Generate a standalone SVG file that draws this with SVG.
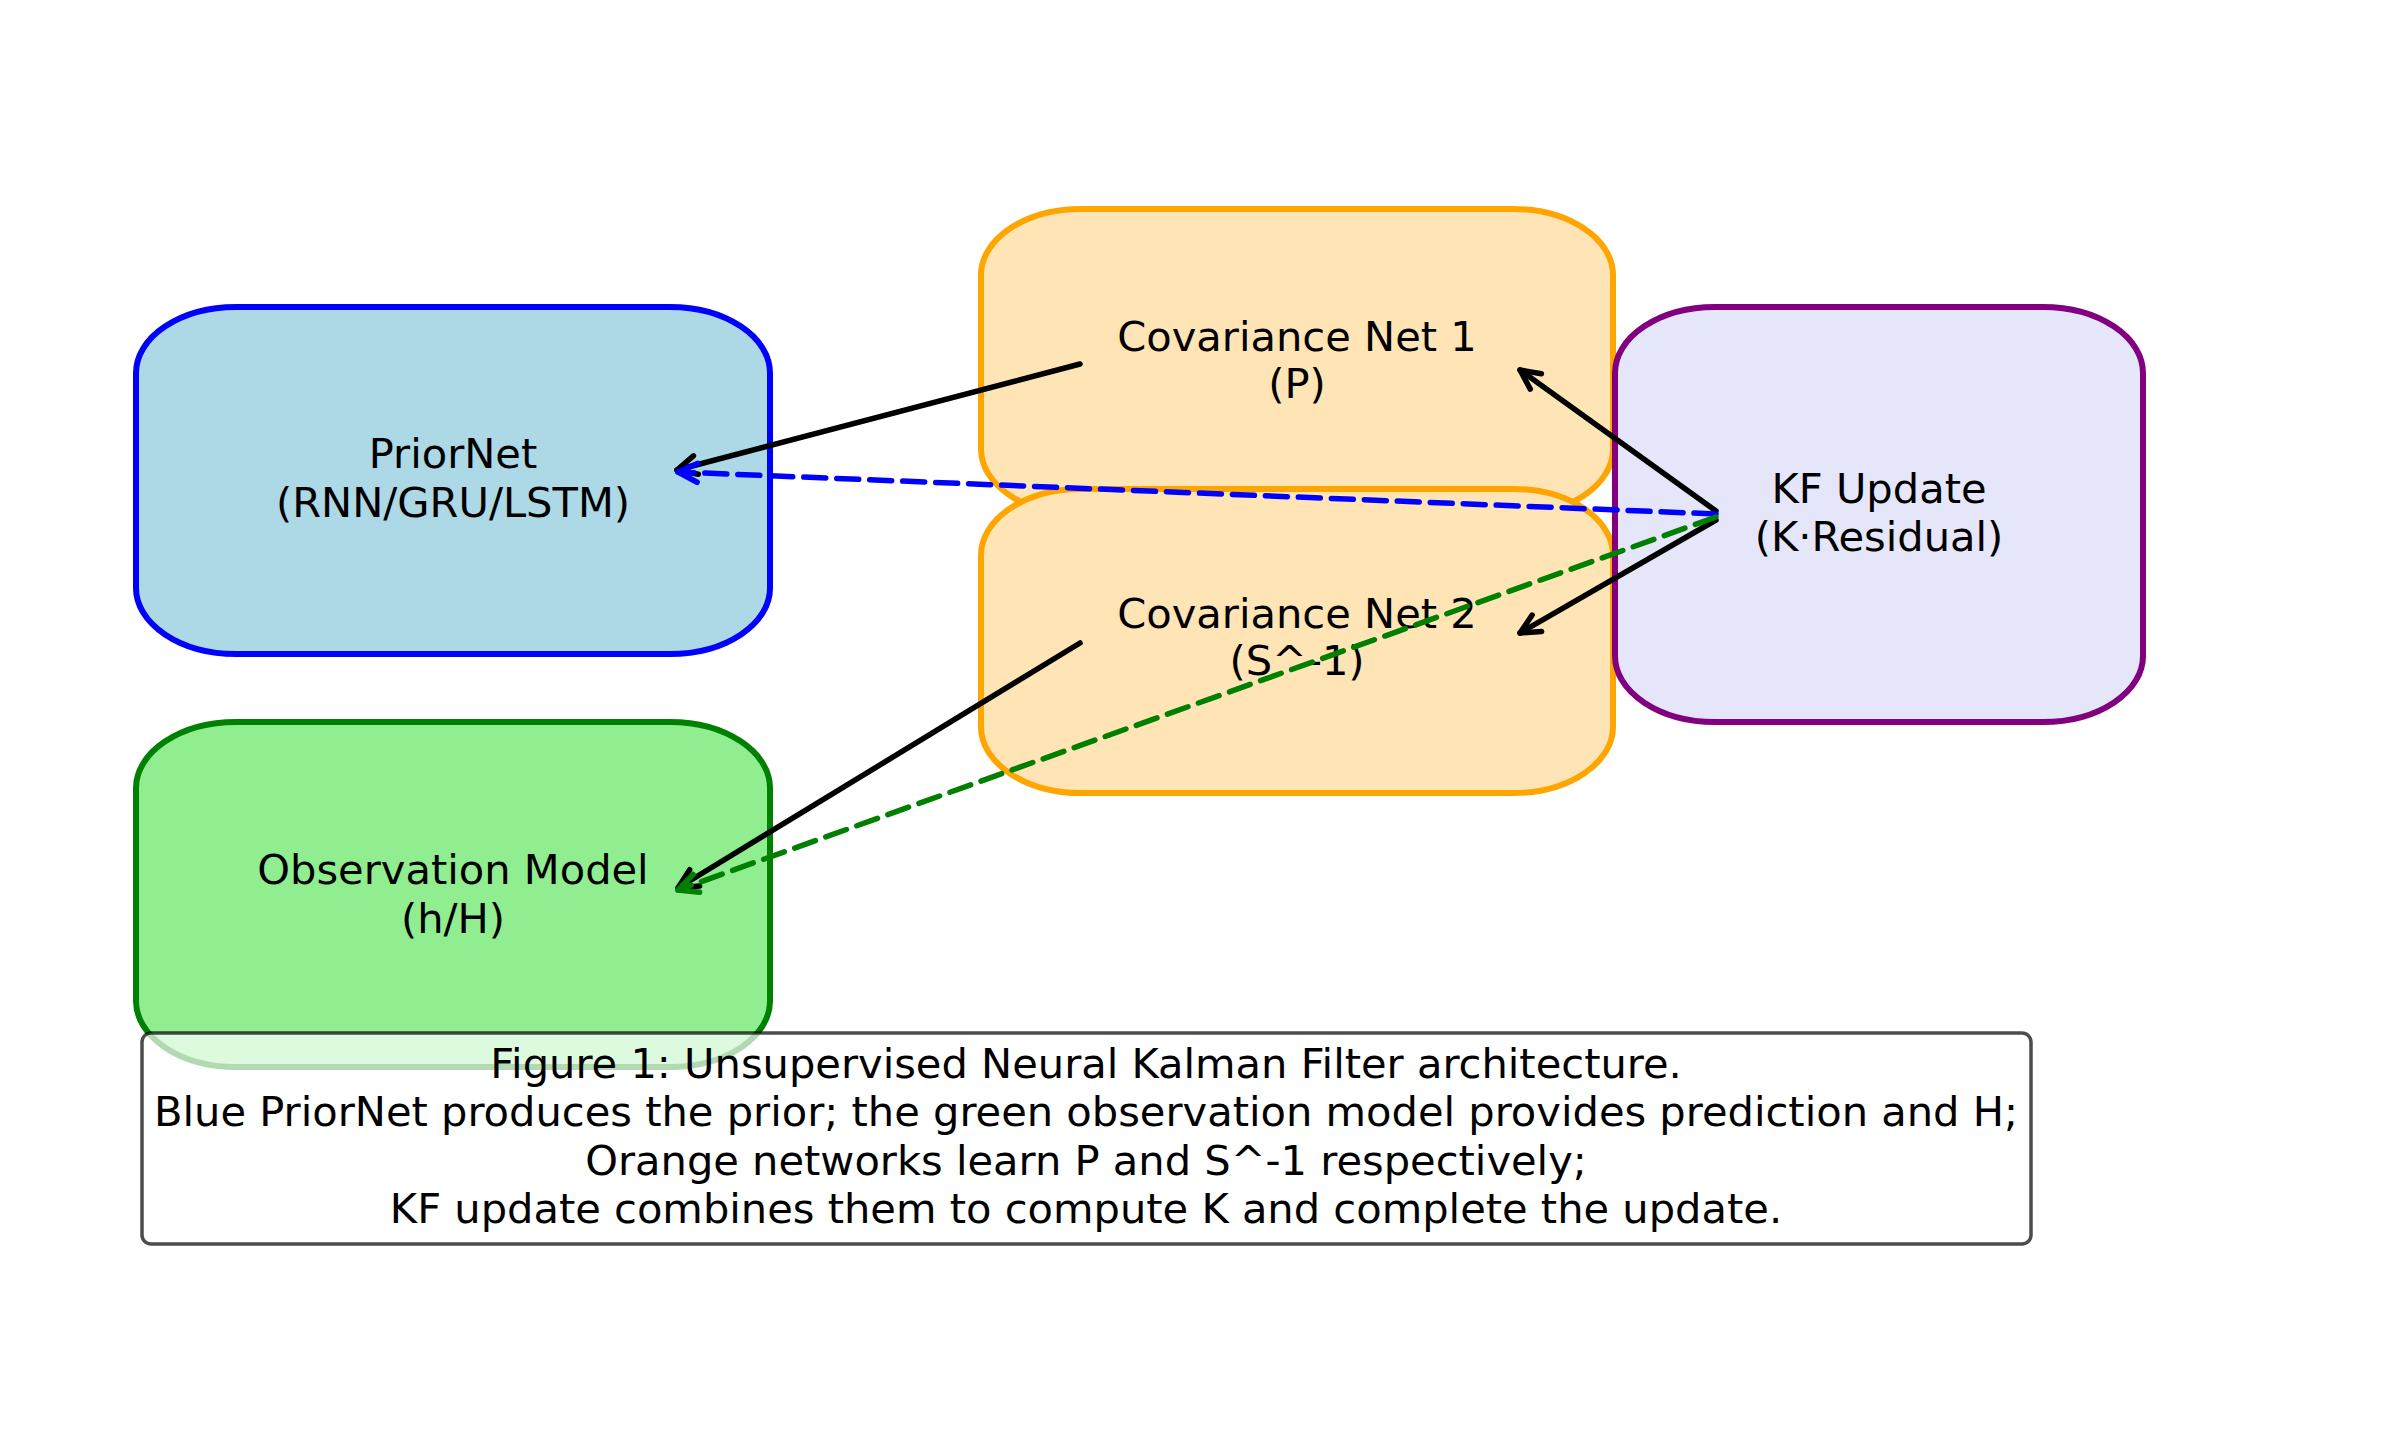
<svg xmlns="http://www.w3.org/2000/svg" width="2385" height="1446" viewBox="0 0 2385 1446">
<style>
  .box { stroke-width: 6; }
  .lbl { font-family: "DejaVu Sans", "Liberation Sans", sans-serif; font-size: 41.6px; fill: #000; text-anchor: middle; }
  .conn { fill: none; stroke-width: 5.5; stroke-linecap: round; stroke-linejoin: round; }
  .dash { stroke-dasharray: 22 11; }
</style>
<defs>
  <marker id="ahK" viewBox="-25 -15 30 30" refX="0" refY="0" markerWidth="30" markerHeight="30" markerUnits="userSpaceOnUse" orient="auto" overflow="visible">
    <path d="M-19.5,-9.5 L0,0 L-19.5,9.5" fill="none" stroke="#000" stroke-width="5.5" stroke-linecap="round" stroke-linejoin="round"/>
  </marker>
  <marker id="ahB" viewBox="-25 -15 30 30" refX="0" refY="0" markerWidth="30" markerHeight="30" markerUnits="userSpaceOnUse" orient="auto" overflow="visible">
    <path d="M-19.5,-9.5 L0,0 L-19.5,9.5" fill="none" stroke="#0000ff" stroke-width="5.5" stroke-linecap="round" stroke-linejoin="round"/>
  </marker>
  <marker id="ahG" viewBox="-25 -15 30 30" refX="0" refY="0" markerWidth="30" markerHeight="30" markerUnits="userSpaceOnUse" orient="auto" overflow="visible">
    <path d="M-19.5,-9.5 L0,0 L-19.5,9.5" fill="none" stroke="#008000" stroke-width="5.5" stroke-linecap="round" stroke-linejoin="round"/>
  </marker>
</defs>
<rect x="0" y="0" width="2385" height="1446" fill="#ffffff"/>

<g id="priornet">
  <rect class="box" x="136" y="307" width="634" height="347" rx="100" ry="66" fill="#add8e6" stroke="#0000ff"/>
  <text class="lbl" x="453" y="468">PriorNet</text>
  <text class="lbl" x="453" y="517">(RNN/GRU/LSTM)</text>
</g>

<g id="covnet1">
  <rect class="box" x="981" y="209" width="632" height="306" rx="100" ry="66" fill="#ffe4b5" stroke="#ffa500"/>
  <text class="lbl" x="1297" y="351">Covariance Net 1</text>
  <text class="lbl" x="1297" y="398">(P)</text>
</g>

<g id="covnet2">
  <rect class="box" x="981" y="489" width="632" height="304" rx="100" ry="66" fill="#ffe4b5" stroke="#ffa500"/>
  <text class="lbl" x="1297" y="628">Covariance Net 2</text>
  <text class="lbl" x="1297" y="675">(S^-1)</text>
</g>

<g id="kfupdate">
  <rect class="box" x="1615" y="307" width="528" height="415" rx="100" ry="66" fill="#e6e6fa" stroke="#800080"/>
  <text class="lbl" x="1879" y="503">KF Update</text>
  <text class="lbl" x="1879" y="551">(K·Residual)</text>
</g>

<g id="obsmodel">
  <rect class="box" x="136" y="722" width="634" height="345" rx="100" ry="66" fill="#90ee90" stroke="#008000"/>
  <text class="lbl" x="453" y="884">Observation Model</text>
  <text class="lbl" x="453" y="933">(h/H)</text>
</g>

<g id="connectors">
  <line class="conn" x1="1080" y1="364" x2="677" y2="470" stroke="#000" marker-end="url(#ahK)"/>
  <line class="conn" x1="1080" y1="643" x2="678" y2="888" stroke="#000" marker-end="url(#ahK)"/>
  <line class="conn" x1="1716" y1="511" x2="1520" y2="370" stroke="#000" marker-end="url(#ahK)"/>
  <line class="conn" x1="1716" y1="520" x2="1520" y2="633" stroke="#000" marker-end="url(#ahK)"/>
  <line class="conn dash" x1="1716" y1="514" x2="678" y2="472" stroke="#0000ff" marker-end="url(#ahB)"/>
  <line class="conn dash" x1="1716" y1="517" x2="678" y2="890" stroke="#008000" marker-end="url(#ahG)"/>
</g>

<g id="caption">
  <rect x="142" y="1033" width="1889" height="211" rx="9" ry="9" fill="#ffffff" fill-opacity="0.7" stroke="#000" stroke-opacity="0.7" stroke-width="3.5"/>
  <text class="lbl" x="1086" y="1078">Figure 1: Unsupervised Neural Kalman Filter architecture.</text>
  <text class="lbl" x="1086" y="1126">Blue PriorNet produces the prior; the green observation model provides prediction and H;</text>
  <text class="lbl" x="1086" y="1175">Orange networks learn P and S^-1 respectively;</text>
  <text class="lbl" x="1086" y="1223">KF update combines them to compute K and complete the update.</text>
</g>
</svg>
